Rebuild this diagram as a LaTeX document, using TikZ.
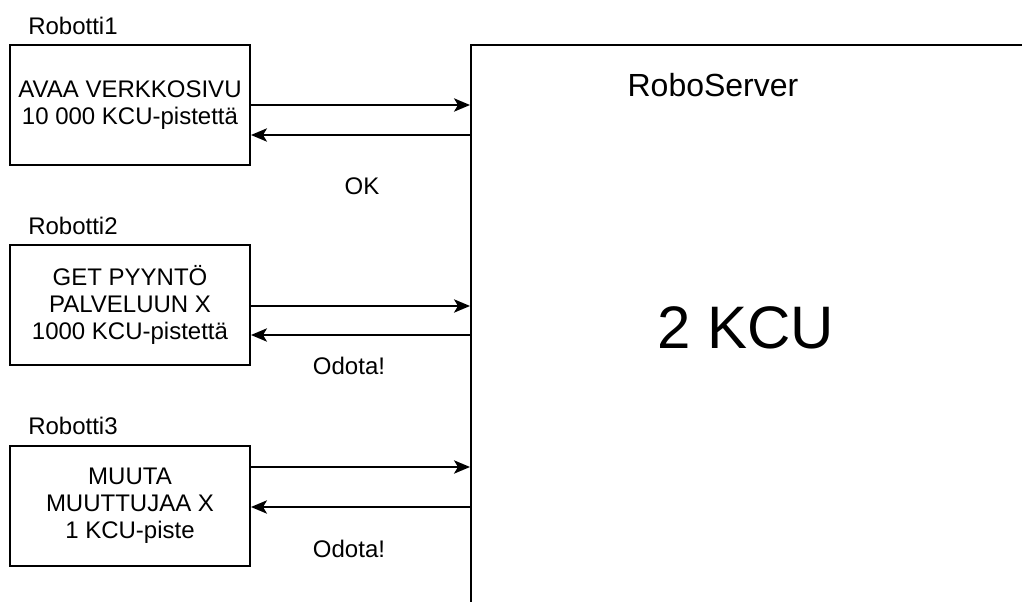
\documentclass[tikz,border=0pt]{standalone}
\usepackage{fontspec}
\setmainfont{Liberation Sans}
\usetikzlibrary{arrows.meta}
\begin{document}
\begin{tikzpicture}[x=0.75pt,y=-0.75pt,
  robot/.style={draw, line width=1.5pt, minimum width=180pt, minimum height=90pt,
    align=center, inner sep=0pt, font=\fontsize{18}{20.25}\selectfont},
  txt/.style={inner sep=0pt, font=\fontsize{18}{20.25}\selectfont},
  flow/.style={line width=1.5pt, -{Stealth[length=12pt,width=10pt,inset=3pt]}}]
\useasboundingbox (0,0) rectangle (1022,602);
\clip (0,0) rectangle (1022,602);

% server block, running past the right and bottom edges
\node[draw, line width=1.5pt, minimum width=525pt, minimum height=525pt,
  anchor=north west, inner sep=0pt] (srv) at (470,44) {};
\node[anchor=base, inner sep=0pt, font=\fontsize{24}{28}\selectfont] (title) at (713,97) {RoboServer};
\node[anchor=base, inner sep=0pt, font=\fontsize{45}{50}\selectfont] (load) at (746,349) {2 KCU};

% robots
\node[robot] (r1) at (130,105) {AVAA VERKKOSIVU\\10 000 KCU-pistettä};
\node[robot] (r2) at (130,305) {GET PYYNTÖ\\PALVELUUN X\\1000 KCU-pistettä};
\node[robot] (r3) at (130,506) {MUUTA\\MUUTTUJAA X\\1 KCU-piste};

\node[txt, anchor=base west] (n1) at (28,34.3) {Robotti1};
\node[txt, anchor=base west] (n2) at (28,234.3) {Robotti2};
\node[txt, anchor=base west] (n3) at (28,435) {Robotti3};

% requests and replies
\draw[flow] (r1.east |- 0,105) -- (srv.west |- 0,105);
\draw[flow] (srv.west |- 0,135) -- (r1.east |- 0,135);
\draw[flow] (r2.east |- 0,306) -- (srv.west |- 0,306);
\draw[flow] (srv.west |- 0,335) -- (r2.east |- 0,335);
\draw[flow] (r3.east |- 0,467) -- (srv.west |- 0,467);
\draw[flow] (srv.west |- 0,507) -- (r3.east |- 0,507);

\node[txt, anchor=base] (a1) at (362,195) {OK};
\node[txt, anchor=base] (a2) at (349,375) {Odota!};
\node[txt, anchor=base] (a3) at (349,557) {Odota!};
\end{tikzpicture}
\end{document}
